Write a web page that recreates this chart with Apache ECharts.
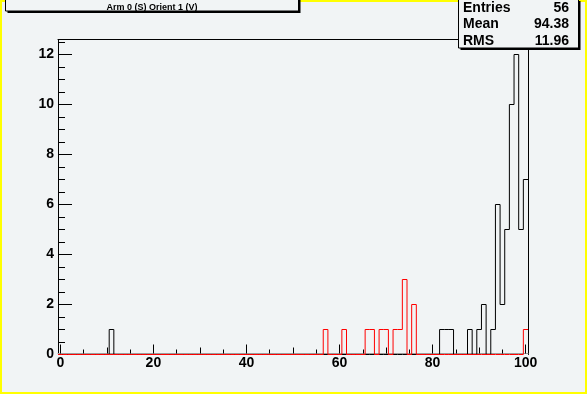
<!DOCTYPE html>
<html><head><meta charset="utf-8">
<script src="https://cdn.jsdelivr.net/npm/echarts@6/dist/echarts.min.js"></script>
<style>html,body{margin:0;padding:0;background:#ffff00;}#c{width:587px;height:394px;}</style>
</head><body><div id="c"></div>
<script>
// ---- data ----
const titleText = 'Arm 0 (S) Orient 1 (V)';
const binFirst = 0, binLast = 100;            // unit-width bins centred on integers
const blackBins   = [11, 82, 83, 84, 88, 90, 91, 93, 94, 95, 96, 97, 98, 99, 100];
const blackCounts = [ 1,  1,  1,  1,  1,  1,  2,  1,  6,  2,  5, 10, 12,  5,   7];
const redBins   = [57, 61, 66, 67, 69, 70, 72, 73, 74, 76, 100];
const redCounts = [ 1,  1,  1,  1,  1,  1,  1,  1,  3,  2,   1];
const xTickLabels = [0, 20, 40, 60, 80, 100];
const xMidTicks   = [10, 30, 50, 70, 90];
const xMinorTicks = [5, 15, 25, 35, 45, 55, 65, 75, 85, 95];
const yTickLabels = [0, 2, 4, 6, 8, 10, 12];
const yMinorTicks = [0.5, 1, 1.5, 2.5, 3, 3.5, 4.5, 5, 5.5, 6.5, 7, 7.5, 8.5, 9, 9.5, 10.5, 11, 11.5, 12.5];
const yMin = 0, yMax = 12.6;
const statNames  = ['Entries', 'Mean', 'RMS'];
const statValues = ['56', '94.38', '11.96'];

// ---- histogram outline as step points (bin edges) built from the bins ----
function histSteps(bins, counts) {
  const pts = [];
  for (let k = binFirst; k <= binLast; k++) {
    const i = bins.indexOf(k);
    const v = i >= 0 ? counts[i] : 0;
    pts.push([k - 0.5, v], [k + 0.5, v]);
  }
  return pts;
}

const PAD = '#f1f4f5';
const FONT = 'Liberation Sans, Arial, sans-serif';
const xMin = binFirst - 0.5, xMax = binLast + 0.5;

function xAx(ticks, len, labels, pos, line, lineColor, offset) {
  return {
    type: 'value', min: xMin, max: xMax, position: pos || 'bottom', offset: offset || 0,
    splitLine: {show: false},
    axisLine: {show: !!line, onZero: false, lineStyle: {color: lineColor || '#000', width: 1}},
    axisTick: ticks ? {show: true, inside: true, length: len, customValues: ticks, lineStyle: {color: '#000', width: 1}} : {show: false},
    axisLabel: labels ? {show: true, customValues: ticks, margin: 3, color: '#000', fontSize: 14, fontWeight: 'bold', fontFamily: FONT}
                      : {show: false}
  };
}
function yAx(ticks, len, labels, pos, line) {
  return {
    type: 'value', min: yMin, max: yMax, position: pos || 'left',
    splitLine: {show: false},
    axisLine: {show: !!line, onZero: false, lineStyle: {color: '#000', width: 1}},
    axisTick: ticks ? {show: true, inside: true, length: len, customValues: ticks, lineStyle: {color: '#000', width: 1}} : {show: false},
    axisLabel: labels ? {show: true, customValues: ticks, margin: 4, color: '#000', fontSize: 14, fontWeight: 'bold', fontFamily: FONT}
                      : {show: false}
  };
}

function histSeries(name, pts, color, z) {
  return {
    type: 'custom', name: name, coordinateSystem: 'cartesian2d', clip: false, z: z,
    data: [[binFirst, 0]],
    renderItem: function (params, api) {
      const points = pts.map(p => api.coord(p));
      return {type: 'polyline', shape: {points: points}, style: {stroke: color, fill: null, lineWidth: 1}};
    }
  };
}

const graphic = [
  {type: 'rect', shape: {x: 2, y: 2, width: 583, height: 390}, style: {fill: PAD}, z: -10, silent: true},
  {type: 'rect', shape: {x: 7.5, y: -1, width: 293, height: 14}, style: {fill: '#000'}, z: 10},
  {type: 'rect', shape: {x: 5.5, y: -3, width: 293, height: 14}, style: {fill: PAD, stroke: '#000', lineWidth: 1}, z: 11},
  {type: 'text', x: 152, y: 7.5, style: {text: titleText, fill: '#000', font: 'bold 9px ' + FONT, align: 'center', verticalAlign: 'middle'}, z: 12},
  {type: 'rect', shape: {x: 460.5, y: 1, width: 120, height: 49}, style: {fill: '#000'}, z: 10},
  {type: 'rect', shape: {x: 458.5, y: -1, width: 120, height: 49}, style: {fill: PAD, stroke: '#000', lineWidth: 1}, z: 11}
];
statNames.forEach((n, i) => {
  graphic.push({type: 'text', x: 463, y: 8 + i * 16.5, style: {text: n, fill: '#000', font: 'bold 14px ' + FONT, align: 'left', verticalAlign: 'middle'}, z: 12});
  graphic.push({type: 'text', x: 569, y: 8 + i * 16.5, style: {text: statValues[i], fill: '#000', font: 'bold 14px ' + FONT, align: 'right', verticalAlign: 'middle'}, z: 12});
});

const chart = echarts.init(document.getElementById('c'), null, {renderer: 'canvas'});
chart.setOption({
  backgroundColor: 'transparent',
  animation: false,
  grid: {left: 58, top: 39.5, right: 59, bottom: 39.5, show: false},
  xAxis: [xAx(xTickLabels, 9, true, 'bottom', true, '#9c9c9c', -1), xAx(xMidTicks, 6, false, 'bottom', false, null, -1),
          xAx(xMinorTicks, 4, false, 'bottom', false, null, -1), xAx(null, 0, false, 'top', true)],
  yAxis: [yAx(yTickLabels, 14, true, 'left', true), yAx(yMinorTicks, 7, false), yAx(null, 0, false, 'right', true)],
  graphic: graphic,
  series: [
    histSeries('black', histSteps(blackBins, blackCounts), '#000000', 30),
    histSeries('red', histSteps(redBins, redCounts), '#ff0000', 31)
  ]
});
</script></body></html>
